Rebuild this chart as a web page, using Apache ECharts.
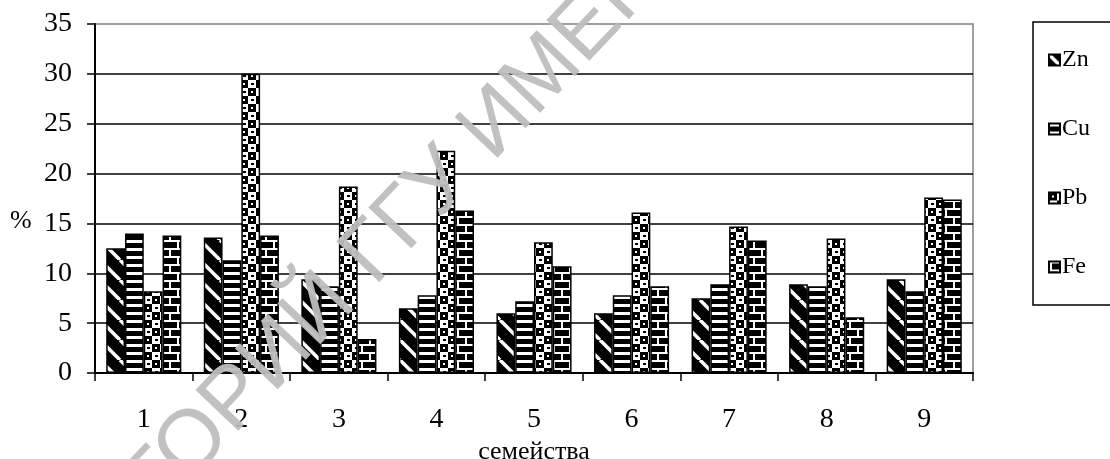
<!DOCTYPE html>
<html>
<head>
<meta charset="utf-8">
<script src="https://cdn.jsdelivr.net/npm/echarts@6/dist/echarts.min.js"></script>
<style>
html,body{margin:0;padding:0;background:#fff;}
#chart{width:1110px;height:459px;}
</style>
</head>
<body>
<div id="chart"></div>
<script>
// ---- data ----
const categories = ['1','2','3','4','5','6','7','8','9'];
const seriesNames = ['Zn','Cu','Pb','Fe'];
const zn = [12.5, 13.6, 9.4, 6.5, 6.0, 6.0, 7.5, 8.9, 9.4];
const cu = [14.0, 11.3, 8.7, 7.8, 7.2, 7.8, 8.9, 8.7, 8.2];
const pb = [8.2, 30.0, 18.7, 22.3, 13.1, 16.1, 14.7, 13.5, 17.6];
const fe = [13.8, 13.8, 3.4, 16.3, 10.7, 8.7, 13.3, 5.6, 17.4];
const yTicks = [0, 5, 10, 15, 20, 25, 30, 35];
const xTitle = 'семейства';
const yTitle = '%';
const watermark = 'РЕПОЗИТОРИЙ ГГУ ИМЕНИ Ф. СКОРИНЫ';

// ---- patterns ----
function tile(w, h, draw) {
  const c = document.createElement('canvas');
  c.width = w; c.height = h;
  const g = c.getContext('2d');
  draw(g, w, h);
  return { image: c, repeat: 'repeat' };
}
const patZn = tile(20, 20, (g, w, h) => {
  g.fillStyle = '#000'; g.fillRect(0, 0, w, h);
  g.strokeStyle = '#fff'; g.lineWidth = 3.5;
  for (const o of [-w, 0, w]) {
    g.beginPath(); g.moveTo(o, 0); g.lineTo(o + w, h); g.stroke();
  }
});
const patCu = tile(8, 8, (g, w, h) => {
  g.fillStyle = '#000'; g.fillRect(0, 0, w, h);
  g.fillStyle = '#fff'; g.fillRect(0, 0, w, 3);
});
const patPb = tile(16, 16, (g, w, h) => {
  g.fillStyle = '#fff'; g.fillRect(0, 0, w, h);
  g.fillStyle = '#000'; g.fillRect(0, 0, 8, 8); g.fillRect(8, 8, 8, 8);
  g.fillRect(11, 3, 3, 2); g.fillRect(3, 11, 3, 2);
  g.fillStyle = '#fff'; g.fillRect(3, 3, 2, 2); g.fillRect(11, 11, 2, 2);
});
const patFe = tile(16, 16, (g, w, h) => {
  g.fillStyle = '#000'; g.fillRect(0, 0, w, h);
  g.fillStyle = '#fff';
  g.fillRect(0, 0, 16, 2); g.fillRect(1, 0, 2, 8);
  g.fillRect(0, 8, 16, 2); g.fillRect(9, 8, 2, 8);
});
const patterns = [patZn, patCu, patPb, patFe];
const values = [zn, cu, pb, fe];

const serif = 'Liberation Serif, Times New Roman, serif';
const chart = echarts.init(document.getElementById('chart'), null, { renderer: 'canvas' });

chart.setOption({
  backgroundColor: '#fff',
  animation: false,
  grid: {
    left: 95, right: 137, top: 24, bottom: 86,
    outerBoundsMode: 'none',
    containLabel: false,
    show: true, borderColor: '#808080', borderWidth: 1.5, backgroundColor: 'transparent'
  },
  legend: {
    orient: 'vertical',
    left: 1033, top: 22,
    padding: [26, 80, 26, 15],
    itemGap: 45,
    itemWidth: 11, itemHeight: 11,
    icon: 'rect',
    borderColor: '#000', borderWidth: 1.5,
    textStyle: { fontFamily: serif, fontSize: 24, color: '#000', padding: [0, 0, 0, -3] },
    data: seriesNames
  },
  xAxis: {
    type: 'category',
    data: categories,
    boundaryGap: true,
    name: xTitle,
    nameLocation: 'middle',
    nameGap: 56,
    nameTextStyle: { fontFamily: serif, fontSize: 26, color: '#000' },
    axisLine: { lineStyle: { color: '#000', width: 2 } },
    axisTick: { show: true, length: 8, lineStyle: { color: '#000', width: 1.5 } },
    axisLabel: { fontFamily: serif, fontSize: 28, color: '#000', margin: 33 },
    splitLine: { show: false }
  },
  yAxis: {
    type: 'value',
    min: 0, max: 35, interval: 5,
    axisLine: { show: true, lineStyle: { color: '#000', width: 2 } },
    axisTick: { show: true, length: 8, lineStyle: { color: '#000', width: 1.5 } },
    axisLabel: {
      fontFamily: serif, fontSize: 28, color: '#000', margin: 23,
      formatter: v => (yTicks.includes(v) ? String(v) : '')
    },
    splitLine: { show: true, showMaxLine: false, lineStyle: { color: '#000', width: 1.5 } }
  },
  series: seriesNames.map((n, i) => ({
    name: n,
    type: 'bar',
    data: values[i],
    barGap: '0%',
    barCategoryGap: '23%',
    itemStyle: { color: patterns[i], borderColor: '#000', borderWidth: 1.5 },
    emphasis: { disabled: true }
  })),
  graphic: [{
    type: 'text',
    left: 10, top: 208,
    style: { text: yTitle, fontFamily: serif, fontSize: 26, fill: '#000' }
  }, {
    type: 'text',
    z: 100,
    x: -78, y: 792,
    rotation: 46.5 * Math.PI / 180,
    style: {
      text: watermark,
      fontFamily: 'Liberation Sans, Arial, sans-serif',
      fontSize: 86,
      fill: 'rgba(190,190,190,0.95)',
      textAlign: 'left',
      textVerticalAlign: 'bottom'
    }
  }]
});
</script>
</body>
</html>
